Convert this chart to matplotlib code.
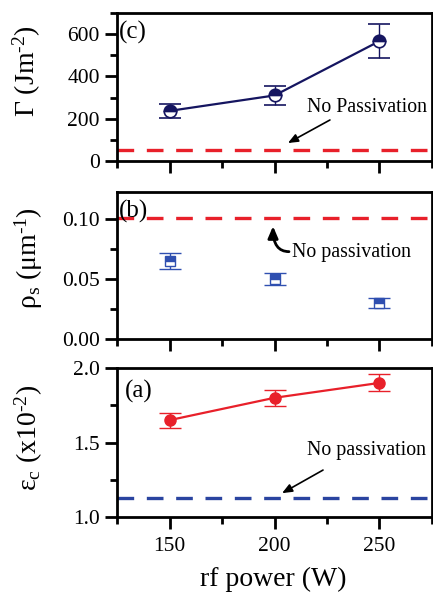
import matplotlib
matplotlib.use("Agg")
import matplotlib.pyplot as plt
from matplotlib.ticker import MultipleLocator

plt.rcParams['font.family'] = ['Liberation Serif', 'DejaVu Serif']
plt.rcParams['mathtext.fontset'] = 'custom'
plt.rcParams['mathtext.rm'] = 'Liberation Serif'
plt.rcParams['mathtext.it'] = 'Liberation Serif:italic'
plt.rcParams['mathtext.bf'] = 'Liberation Serif:bold'

# ---- data ----
power = [150, 200, 250]
gamma = [237, 310, 567]
gamma_err = [32, 43, 80]
gamma_nopass = 50

rho = [0.065, 0.050, 0.030]
rho_err = [0.007, 0.005, 0.0045]
rho_nopass = 0.101

eps = [1.65, 1.80, 1.90]
eps_err = [0.05, 0.055, 0.057]
eps_nopass = 1.13

xticks = [150, 200, 250]

navy = '#151560'
blue = '#2f4fb0'
red = '#e8202a'
dblue = '#2a44a0'

TICK = 15.5
LAB = 20
ANN = 14.3
PAN = 18

fig = plt.figure(figsize=(4.33, 5.93), dpi=100)
W, H = 433, 593
L, R = 117, 432

def mkax(top, bot):
    return fig.add_axes([L / W, 1 - bot / H, (R - L) / W, (bot - top) / H])

axc = mkax(13, 161)
axb = mkax(192, 339)
axa = mkax(368, 517)

for ax in (axc, axb, axa):
    ax.set_xlim(125, 275)
    ax.set_xticks(xticks)
    ax.xaxis.set_minor_locator(MultipleLocator(25))
    for s in ax.spines.values():
        s.set_linewidth(2.0)
    ax.tick_params(which='major', direction='out', length=8.5, width=2.0,
                   labelsize=TICK, pad=4, top=False, right=False)
    ax.tick_params(which='minor', direction='out', length=5, width=2.0,
                   top=False, right=False)
    ax.tick_params(axis='x', which='major', pad=6)

axc.tick_params(labelbottom=False)
axb.tick_params(labelbottom=False)

dash = (0, (5, 3.8))

# ---- panel (c) ----
axc.set_ylim(0, 700)
axc.set_yticks([0, 200, 400, 600])
axc.yaxis.set_minor_locator(MultipleLocator(100))
axc.axhline(gamma_nopass, color=red, lw=2.4, ls=dash)
axc.errorbar(power, gamma, yerr=gamma_err, color=navy, lw=1.6, elinewidth=1.0,
             capsize=8, capthick=1.0, marker='o', ms=9, mfc=navy,
             mec=navy, fillstyle='top', markerfacecoloralt='white', mew=1.2)
axc.text(0.006, 0.87, '(c)', transform=axc.transAxes, fontsize=PAN,
         ha='left', va='center')
axc.text(215.5, 233, 'No Passivation', fontsize=ANN, ha='left', va='baseline')
axc.annotate('', xy=(206.4, 85), xytext=(226.4, 194),
             arrowprops=dict(arrowstyle='-|>,head_length=0.6,head_width=0.25',
                             color='black', lw=1.2, shrinkA=0, shrinkB=0))
axc.set_ylabel(r'Γ (Jm$^{\text{-2}}$)', fontsize=LAB)
axc.yaxis.set_label_coords(-0.235, 0.605)

# ---- panel (b) ----
axb.set_ylim(0, 0.1225)
axb.set_yticks([0.00, 0.05, 0.10])
axb.set_yticklabels(['0.00', '0.05', '0.10'])
axb.yaxis.set_minor_locator(MultipleLocator(0.025))
axb.axhline(rho_nopass, color=red, lw=2.4, ls=dash)
axb.errorbar(power, rho, yerr=rho_err, color=blue, lw=0, elinewidth=1.0,
             capsize=8, capthick=1.0, marker='s', ms=6.5, mfc=blue,
             mec=blue, fillstyle='top', markerfacecoloralt='white', mew=1.0,
             linestyle='none')
axb.text(0.006, 0.87, '(b)', transform=axb.transAxes, fontsize=PAN,
         ha='left', va='center')
axb.text(208.3, 0.0685, 'No passivation', fontsize=ANN, ha='left', va='baseline')
axb.annotate('', xy=(199.3, 0.0940), xytext=(206.9, 0.0728),
             arrowprops=dict(arrowstyle='-|>,head_length=0.7,head_width=0.3',
                             color='black', lw=2.0, shrinkA=0, shrinkB=0,
                             connectionstyle='angle3,angleA=0,angleB=90'))
axb.set_ylabel(r'ρ$_\mathrm{s}$ (μm$^{\text{-1}}$)', fontsize=LAB)
axb.yaxis.set_label_coords(-0.229, 0.552)

# ---- panel (a) ----
axa.set_ylim(1.0, 2.0)
axa.set_yticks([1.0, 1.5, 2.0])
axa.set_yticklabels(['1.0', '1.5', '2.0'])
axa.yaxis.set_minor_locator(MultipleLocator(0.25))
axa.axhline(eps_nopass, color=dblue, lw=2.4, ls=dash)
axa.errorbar(power, eps, yerr=eps_err, color=red, lw=1.6, elinewidth=1.0,
             capsize=8, capthick=1.0, marker='o', ms=8, mfc=red, mec=red)
axa.text(0.025, 0.845, '(a)', transform=axa.transAxes, fontsize=PAN,
         ha='left', va='center')
axa.text(215.3, 1.416, 'No passivation', fontsize=ANN, ha='left', va='baseline')
axa.annotate('', xy=(203.6, 1.16), xytext=(223.1, 1.315),
             arrowprops=dict(arrowstyle='-|>,head_length=0.6,head_width=0.25',
                             color='black', lw=1.2, shrinkA=0, shrinkB=0))
axa.set_ylabel(r'ε$_\mathrm{c}$ (x10$^{\text{-2}}$)', fontsize=LAB)
axa.yaxis.set_label_coords(-0.229, 0.527)
axa.set_xlabel('rf power (W)', fontsize=LAB, va='bottom')
axa.xaxis.set_label_coords(0.495, -0.505)

fig.savefig('out.png', dpi=100)
